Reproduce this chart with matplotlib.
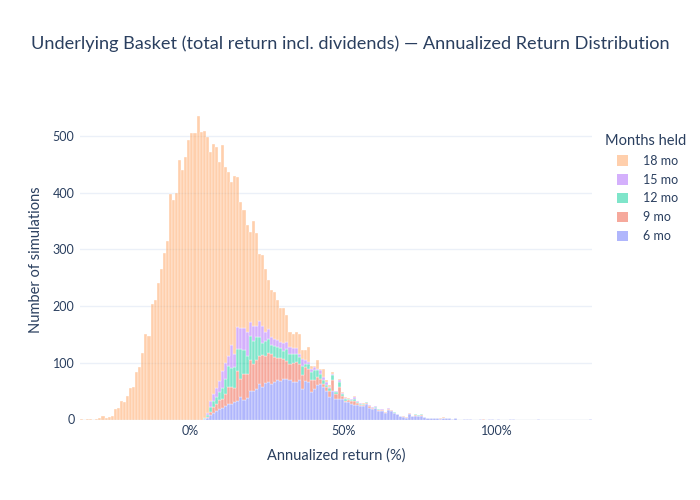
import numpy as np
import matplotlib
matplotlib.use("Agg")
import matplotlib.pyplot as plt
from matplotlib.colors import to_rgba
from matplotlib.patches import Patch

plt.rcParams['font.family'] = ['Lato', 'DejaVu Sans']

# ---------------------------------------------------------------------------- #
# Histogram counts, 1 percentage-point bins (left edge = value in %)

bin_first = -36
bin_last = 130

mo18_start = -36
mo18 = [1, 0, 1, 1, 0, 1, 3, 7, 3, 4,
        7, 19, 21, 33, 31, 42, 55, 58, 83, 92,
        117, 150, 148, 203, 210, 240, 265, 293, 314, 397,
        386, 400, 458, 440, 462, 493, 505, 505, 535, 507,
        506, 486, 440, 440, 425, 386, 399, 345, 324, 287,
        313, 265, 221, 207, 189, 159, 184, 163, 118, 125,
        110, 86, 82, 82, 71, 59, 62, 47, 27, 25,
        29, 35, 15, 17, 26, 6, 3, 15, 2, 14,
        3, 2, 3, 1, 2, 1, 1, 1, 1, 2,
        0, 0, 1, 0, 0, 0, 0]
mo18_sparse = {82: 1}

mo15_start = 4
mo15 = [1, 4, 10, 13, 16, 20, 30, 28, 17, 41,
        24, 38, 37, 40, 42, 24, 27, 20, 28, 30,
        17, 18, 14, 13, 13, 11, 14, 12, 12, 10,
        11, 6, 12, 7, 4, 5, 5, 2, 6, 6,
        6, 2, 3, 2, 4, 2, 2, 1, 1, 2,
        1, 1, 1, 1, 1, 1, 1, 0, 1, 0,
        1]
mo15_sparse = {}

mo12_start = 4
mo12 = [1, 3, 8, 10, 12, 13, 18, 27, 38, 33,
        37, 40, 53, 42, 32, 43, 40, 40, 34, 21,
        26, 24, 17, 19, 18, 18, 14, 22, 17, 17,
        14, 12, 17, 6, 8, 15, 18, 12, 9, 6,
        3, 5, 9, 3, 9, 4, 3, 2, 2, 4,
        2, 2, 1, 1, 1, 1, 1, 1, 0, 1,
        1, 1, 1, 0, 0, 0, 0, 1, 0, 1,
        1, 1, 0]
mo12_sparse = {84: 1}

mo9_start = 4
mo9 = [0, 2, 6, 10, 13, 16, 16, 22, 29, 29,
       24, 52, 33, 45, 42, 55, 47, 52, 50, 57,
       47, 52, 53, 44, 40, 40, 35, 31, 28, 33,
       35, 29, 24, 24, 23, 21, 15, 15, 9, 6,
       6, 12, 18, 9, 20, 5, 2, 3, 5, 8,
       3, 2, 3, 1, 2, 2, 1, 2, 2, 1,
       1, 1, 1, 1, 1, 1, 1, 2, 1, 1,
       1, 2, 0]
mo9_sparse = {81: 1, 82: 1, 83: 1, 95: 1}

mo6_start = 4
mo6 = [1, 3, 8, 12, 15, 19, 21, 23, 28, 28,
       31, 33, 39, 35, 38, 50, 51, 53, 62, 57,
       65, 66, 62, 66, 69, 68, 71, 72, 70, 66,
       66, 69, 54, 68, 66, 48, 54, 60, 63, 57,
       51, 39, 51, 36, 37, 36, 31, 31, 28, 25,
       26, 24, 23, 28, 21, 18, 20, 15, 15, 12,
       17, 15, 11, 9, 6, 5, 3, 9, 6, 7,
       6, 6, 4, 2, 2, 2, 2, 1, 2, 2,
       2, 1, 2]
mo6_sparse = {89: 1, 90: 1, 91: 1, 94: 1, 97: 1, 98: 1, 100: 1,
              104: 1, 105: 1, 113: 1, 130: 1}

labels = ['6 mo', '9 mo', '12 mo', '15 mo', '18 mo']
colors = ['#636EFA', '#EF553B', '#00CC96', '#AB63FA', '#FFA15A']

# ---------------------------------------------------------------------------- #

def to_bins(start, counts, sparse):
    edges = np.arange(bin_first, bin_last + 1)
    out = np.zeros(len(edges))
    for i, c in enumerate(counts):
        out[start + i - bin_first] = c
    for k, c in sparse.items():
        out[k - bin_first] = c
    return edges, out


series = [to_bins(mo6_start, mo6, mo6_sparse),
          to_bins(mo9_start, mo9, mo9_sparse),
          to_bins(mo12_start, mo12, mo12_sparse),
          to_bins(mo15_start, mo15, mo15_sparse),
          to_bins(mo18_start, mo18, mo18_sparse)]

text_col = '#2a3f5f'
grid_col = '#EBF0F8'

fig = plt.figure(figsize=(7, 5), dpi=100)
ax = fig.add_axes([80 / 700, 1 - 419.5 / 500, 512 / 700, 319.5 / 500])

bottom = np.zeros(bin_last - bin_first + 1)
for (edges, counts), c in zip(series, colors):
    ax.bar(edges, counts, width=1, bottom=bottom, align='edge',
           facecolor=to_rgba(c, 0.5), edgecolor='white', linewidth=0.25, zorder=2)
    bottom = bottom + counts

ax.set_xlim(bin_first, bin_last + 1)
ax.set_ylim(0, 563)
ax.set_yticks([0, 100, 200, 300, 400, 500])
ax.set_xticks([0, 50, 100])
ax.set_xticklabels(['0%', '50%', '100%'])
ax.yaxis.grid(True, color=grid_col, linewidth=1, zorder=0)
ax.axhline(0, color=grid_col, linewidth=2, zorder=1)
ax.set_axisbelow(True)
for s in ax.spines.values():
    s.set_visible(False)
ax.tick_params(length=0, labelsize=9, colors=text_col, pad=4)
ax.set_xlabel('Annualized return (%)', fontsize=10.5, color=text_col, labelpad=8)
ax.set_ylabel('Number of simulations', fontsize=10.5, color=text_col, labelpad=7)

fig.suptitle('Underlying Basket (total return incl. dividends) \u2014 Annualized Return Distribution',
             x=0.5, y=1 - 44 / 500, va='center', fontsize=13.1, color=text_col)

# legend title drawn on its own so the entries can be indented below it
fig.text(605 / 700, 1 - 141 / 500, 'Months held', fontsize=10.5,
         color=text_col, va='center', ha='left')
handles = [Patch(facecolor=to_rgba(c, 0.5), edgecolor='none') for c in colors]
leg = fig.legend(handles[::-1], labels[::-1],
                 loc='upper left', bbox_to_anchor=(608 / 700, 1 - 146 / 500),
                 frameon=False, fontsize=9,
                 handlelength=0.9, handleheight=0.9, handletextpad=1.2,
                 labelspacing=0.55, borderpad=0.2)
for t in leg.get_texts():
    t.set_color(text_col)

fig.savefig('out.png', dpi=100)
